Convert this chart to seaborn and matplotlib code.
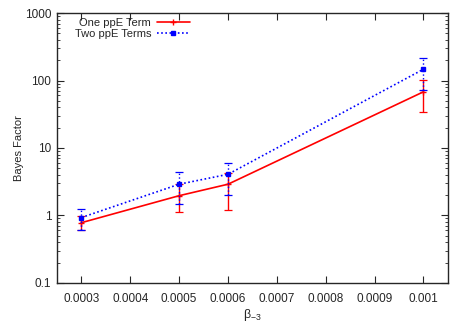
import numpy as np
import pandas as pd
import matplotlib
matplotlib.use("Agg")
import matplotlib.pyplot as plt
import seaborn as sns
from matplotlib.ticker import LogLocator, NullFormatter

# datos
beta = [0.0003, 0.0005, 0.0006, 0.001]

one_bf = [0.78, 1.96, 2.9, 68]
one_lo = [0.60, 1.14, 1.2, 34]
one_hi = [0.98, 2.9, 4.2, 101]

two_bf = [0.93, 2.9, 4.07, 147]
two_lo = [0.60, 1.48, 2.0, 72]
two_hi = [1.25, 4.4, 6.05, 215]

xticks = [0.0003, 0.0004, 0.0005, 0.0006, 0.0007, 0.0008, 0.0009, 0.001]
xtick_labels = ['0.0003', '0.0004', '0.0005', '0.0006', '0.0007', '0.0008', '0.0009', '0.001']
yticks = [0.1, 1, 10, 100, 1000]
ytick_labels = ['0.1', '1', '10', '100', '1000']

sns.set_style('ticks')
plt.rcParams['font.family'] = ['Liberation Sans', 'DejaVu Sans']
plt.rcParams['mathtext.fontset'] = 'custom'
plt.rcParams['mathtext.rm'] = 'Liberation Sans'
plt.rcParams['mathtext.it'] = 'Liberation Sans'

fig = plt.figure(figsize=(4.67, 3.27), dpi=100)
ax = fig.add_axes([0.122, 0.135, 0.837, 0.825])

series = [
    ('One ppE Term', one_bf, one_lo, one_hi, '#ff0000', '-', '+', None, 5),
    ('Two ppE Terms', two_bf, two_lo, two_hi, '#0000ff', ':', 's', (1, 1.5), 3.2),
]

for nombre, bf, lo, hi, c, ls, mk, dash, ms in series:
    d = pd.DataFrame({'beta': beta, 'BF': bf})
    kw = dict(dashes=dash) if dash else {}
    sns.lineplot(data=d, x='beta', y='BF', color=c, marker=mk, markersize=ms,
                 markeredgewidth=1.0, markeredgecolor=c, linewidth=1.2,
                 label=nombre, ax=ax, **kw)
    bf = np.array(bf)
    yerr = [bf - np.array(lo), np.array(hi) - bf]
    eb = ax.errorbar(beta, bf, yerr=yerr, fmt='none', ecolor=c,
                     elinewidth=1.0, capsize=3, capthick=0.9)
    for lc in eb[2]:
        lc.set_linestyle(ls)

ax.set_yscale('log')
ax.set_ylim(0.1, 1000)
ax.set_xlim(0.00025, 0.00105)
ax.set_xticks(xticks)
ax.set_xticklabels(xtick_labels)
ax.set_yticks(yticks)
ax.set_yticklabels(ytick_labels)
ax.yaxis.set_minor_locator(LogLocator(base=10, subs=np.arange(2, 10)))
ax.yaxis.set_minor_formatter(NullFormatter())

ax.tick_params(which='both', direction='in', top=True, right=True, labelsize=8.5)
ax.tick_params(axis='y', pad=4)
ax.tick_params(axis='x', pad=7)
ax.tick_params(which='major', length=5, width=0.8)
ax.tick_params(which='minor', length=2.5, width=0.6)
for s in ax.spines.values():
    s.set_linewidth(1.0)

ax.set_xlabel(r'$\beta_{-3}$', fontsize=9, labelpad=2)
ax.set_ylabel('Bayes Factor', fontsize=8, labelpad=1)

h, l = ax.get_legend_handles_labels()
ax.legend(h, l, loc='upper left', bbox_to_anchor=(0.025, 1.01), frameon=False,
          markerfirst=False, fontsize=8, handlelength=3, borderpad=0.2,
          labelspacing=0.1, handletextpad=0.5)

fig.savefig('out.png', dpi=100)
